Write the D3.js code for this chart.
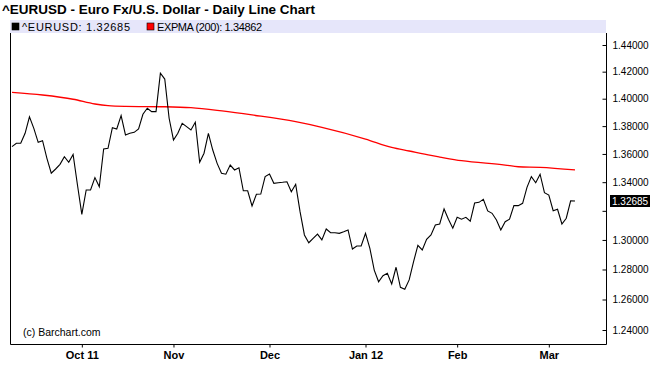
<!DOCTYPE html>
<html>
<head>
<meta charset="utf-8">
<script src="https://cdn.jsdelivr.net/npm/d3@7"></script>
<style>
	body { margin: 0; background: #fff; }
	svg { display: block; font-family: "Liberation Sans", Arial, Helvetica, sans-serif; }
</style>
</head>
<body>
<svg id="chart" width="650" height="386"></svg>
<script>
// daily closes, one per trading day (Sep 9 2011 .. Mar 9 2012)
const closes = [
	1.3652, 1.3676, 1.3676, 1.3748, 1.3868, 1.3784, 1.3683, 1.3695, 1.3569, 1.3463,
	1.3493, 1.3526, 1.3580, 1.3541, 1.3597, 1.3380, 1.3176, 1.3345, 1.3345, 1.3432,
	1.3368, 1.3635, 1.3640, 1.3789, 1.3779, 1.3876, 1.3736, 1.3748, 1.3755, 1.3779,
	1.3886, 1.3930, 1.3905, 1.3905, 1.4188, 1.4145, 1.3857, 1.3700, 1.3748, 1.3820,
	1.3796, 1.3772, 1.3828, 1.3541, 1.3605, 1.3748, 1.3628, 1.3533, 1.3463, 1.3456,
	1.3521, 1.3486, 1.3502, 1.3340, 1.3340, 1.3234, 1.3315, 1.3317, 1.3439, 1.3458,
	1.3392, 1.3396, 1.3399, 1.3403, 1.3333, 1.3385, 1.3194, 1.3034, 1.2981, 1.3011,
	1.3040, 1.3000, 1.3075, 1.3049, 1.3049, 1.3045, 1.3056, 1.3068, 1.2938, 1.2959,
	1.2959, 1.3045, 1.2943, 1.2796, 1.2718, 1.2758, 1.2774, 1.2703, 1.2815, 1.2681,
	1.2668, 1.2730, 1.2852, 1.2963, 1.2932, 1.3004, 1.3034, 1.3102, 1.3109, 1.3213,
	1.3142, 1.3080, 1.3155, 1.3142, 1.3155, 1.3128, 1.3254, 1.3259, 1.3280, 1.3199,
	1.3183, 1.3137, 1.3068, 1.3125, 1.3142, 1.3236, 1.3236, 1.3252, 1.3364, 1.3439,
	1.3396, 1.3456, 1.3326, 1.3310, 1.3201, 1.3211, 1.3109, 1.3149, 1.3270, 1.32685
];

// 200-day exponential moving average, read at these bar indexes
const emaIdx = [0, 7, 14, 19, 22, 26, 35, 41, 47, 53, 55, 65, 71, 81, 87, 91, 96, 98, 103, 113, 116, 121, 129];
const emaVals = [1.4047, 1.4027, 1.3996, 1.3961, 1.3949, 1.3944, 1.3941, 1.3934, 1.3915, 1.3890, 1.3881, 1.3832,
	1.3791, 1.3707, 1.3647, 1.3621, 1.3589, 1.3578, 1.3552, 1.3521, 1.3509, 1.3505, 1.34862];

// first trading day of each month
const monthIdx = [16, 37, 59, 81, 102, 123];
const monthLabels = ['Oct 11', 'Nov', 'Dec', 'Jan 12', 'Feb', 'Mar'];

const priceTicks = [1.24, 1.26, 1.28, 1.30, 1.32, 1.34, 1.36, 1.38, 1.40, 1.42, 1.44];

const svg = d3.select('#chart');
const plotL = 10, plotR = 606, plotT = 33, plotB = 344;
const fmt = d3.format('.5f');

const x = d3.scaleLinear().domain([0, closes.length - 1]).range([12, 575]);
const y = d3.scaleLog().domain([1.24, 1.44]).range([330, 45]); // barchart uses a log price axis

// title
svg.append('text').attr('x', 2).attr('y', 14)
	.attr('font-size', 13.5).attr('font-weight', 'bold').attr('fill', '#000')
	.attr('textLength', 313).attr('lengthAdjust', 'spacingAndGlyphs')
	.text('^EURUSD - Euro Fx/U.S. Dollar - Daily Line Chart');

// legend band
svg.append('rect').attr('x', plotL).attr('y', 20).attr('width', plotR - plotL).attr('height', 13).attr('fill', '#e6e6fa');
const legend = [
	{ color: '#000', label: `^EURUSD: ${fmt(closes[closes.length - 1])}`, x: 12, w: 108 },
	{ color: '#ff0000', label: `EXPMA (200): ${fmt(emaVals[emaVals.length - 1])}`, x: 147, w: 105 },
];
const lg = svg.selectAll('.lg').data(legend).enter().append('g').attr('class', 'lg');
lg.append('rect').attr('x', (d) => d.x).attr('y', 23).attr('width', 7).attr('height', 7)
	.attr('fill', (d) => d.color).attr('stroke', '#000').attr('stroke-width', 0.6);
lg.append('text').attr('x', (d) => d.x + 10).attr('y', 31).attr('font-size', 11).attr('fill', '#000')
	.attr('textLength', (d) => d.w).attr('lengthAdjust', 'spacing').text((d) => d.label);

// clip plot
svg.append('clipPath').attr('id', 'plotClip').append('rect')
	.attr('x', plotL).attr('y', plotT).attr('width', plotR - plotL).attr('height', plotB - plotT);
const plot = svg.append('g').attr('clip-path', 'url(#plotClip)');

const emaPoints = emaIdx.map((d, i) => [d, emaVals[i]]);
plot.append('path').datum(emaPoints)
	.attr('fill', 'none').attr('stroke', '#ff0000').attr('stroke-width', 1.3)
	.attr('d', d3.line().x((d) => x(d[0])).y((d) => y(d[1])).curve(d3.curveMonotoneX));

plot.append('path').datum(closes)
	.attr('fill', 'none').attr('stroke', '#000').attr('stroke-width', 1.1).attr('stroke-linejoin', 'miter')
	.attr('d', d3.line().x((d, i) => x(i)).y((d) => y(d)));

svg.append('text').attr('x', 23).attr('y', 336).attr('font-size', 10.5).attr('fill', '#000').text('(c) Barchart.com');

// frame
svg.append('path').attr('fill', 'none').attr('stroke', '#000').attr('stroke-width', 1)
	.attr('d', `M${plotL + 0.5},${plotT}V${plotB + 0.5}H${plotR + 0.5}V${plotT}`);

// last price marker position
const last = closes[closes.length - 1];
const lastY = Math.round(y(last));

// price axis (ticks point inward)
const yAxis = svg.append('g').attr('transform', `translate(${plotR + 0.5},0)`)
	.call(d3.axisRight(y).tickValues(priceTicks).tickFormat(fmt).tickSizeInner(-4).tickSizeOuter(0).tickPadding(6));
yAxis.select('.domain').remove();
yAxis.selectAll('text').attr('font-size', 10).attr('font-family', '"Liberation Sans", Arial, sans-serif').attr('fill', '#000');
yAxis.selectAll('.tick').filter((d) => Math.abs(y(d) - lastY) < 12).select('text').remove(); // hidden under the marker

svg.append('rect').attr('x', 610).attr('y', lastY - 6).attr('width', 40).attr('height', 12).attr('fill', '#000');
svg.append('text').attr('x', 612).attr('y', lastY + 4).attr('font-size', 10).attr('fill', '#fff').text(fmt(last));

// time axis
const xAxis = svg.append('g').attr('transform', `translate(0,${plotB + 0.5})`)
	.call(d3.axisBottom(x).tickValues(monthIdx).tickFormat((d, i) => monthLabels[i]).tickSizeInner(3).tickSizeOuter(0).tickPadding(4));
xAxis.select('.domain').remove();
xAxis.selectAll('text').attr('font-size', 11).attr('font-weight', 'bold').attr('font-family', '"Liberation Sans", Arial, sans-serif').attr('fill', '#000');
</script>
</body>
</html>
